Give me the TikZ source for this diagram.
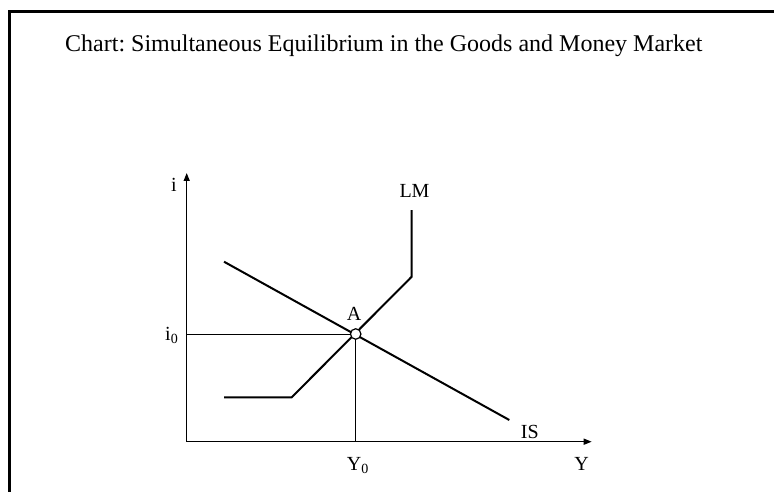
\documentclass[tikz,border=0pt]{standalone}
\usepackage{fontspec}
\setmainfont{Liberation Serif}
\usetikzlibrary{arrows.meta}
\frenchspacing
\begin{document}
\begin{tikzpicture}[x=1pt,y=-1pt,
  lbl/.style={inner sep=0pt,font=\fontsize{20}{22}\selectfont},
  axis/.style={line width=1.4pt,-{Triangle[length=8pt,width=6pt]}},
  curve/.style={line width=2pt},
  guide/.style={line width=0.9pt},
  frame/.style={line width=3pt}]
\useasboundingbox (0,0) rectangle (774,492);
% frame (top and left edges only)
\draw[frame] (9.5,492) -- (9.5,11.5) -- (774,11.5);
% title
\node[anchor=base west,inner sep=0pt,font=\fontsize{24}{26}\selectfont] (title) at (65,51.7)
  {Chart: Simultaneous Equilibrium in the Goods and Money Market};
% coordinates
\coordinate (O) at (186.7,441.7);
\coordinate (ytop) at (186.7,173);
\coordinate (xend) at (591.7,441.7);
\coordinate (Apt) at (355.7,334);
\coordinate (i0pt) at (186.7,334);
\coordinate (Y0pt) at (355.7,441.7);
\coordinate (IS1) at (224,261.7);
\coordinate (IS2) at (509.3,420);
\coordinate (LM1) at (224,397.3);
\coordinate (LM2) at (291.7,397.3);
\coordinate (LM3) at (411.7,276.7);
\coordinate (LM4) at (411.7,210);
% axes
\draw[axis] (O) -- (ytop);
\draw[axis] (O) -- (xend);
% guides
\draw[guide] (i0pt) -- (Apt);
\draw[guide] (Apt) -- (Y0pt);
% curves
\draw[curve] (IS1) -- (IS2);
\draw[curve,line join=miter] (LM1) -- (LM2) -- (LM3) -- (LM4);
% equilibrium point
\node[circle,draw,fill=white,line width=1.2pt,minimum size=10.5pt,inner sep=0pt] (A) at (Apt) {};
% labels
\node[lbl,anchor=base] (ilbl) at (174,191.7) {i};
\node[lbl,anchor=base west] (i0lbl) at (165,340) {i\textsubscript{0}};
\node[lbl,anchor=base] (Albl) at (354,320) {A};
\node[lbl,anchor=base west] (LMlbl) at (399.3,197.7) {LM};
\node[lbl,anchor=base west] (ISlbl) at (520.7,438.3) {IS};
\node[lbl,anchor=base west] (Y0lbl) at (346.7,470) {Y\textsubscript{0}};
\node[lbl,anchor=base] (Ylbl) at (581.7,470) {Y};
\end{tikzpicture}
\end{document}
